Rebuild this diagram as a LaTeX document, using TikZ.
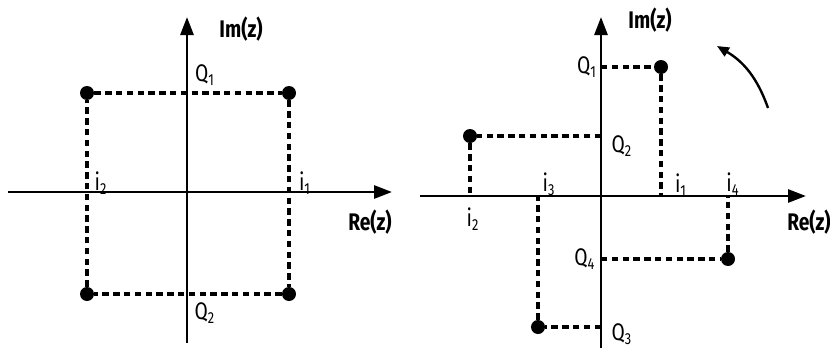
\documentclass[tikz,border=0pt]{standalone}
\usepackage{fontspec}
\setmainfont{Fira Sans}
\newfontfamily\axfont[FakeStretch=0.8]{Fira Sans}
\usepackage{tikz}
\usetikzlibrary{
    arrows.meta,
    positioning
}
\tikzstyle{axis} = [
    line width=1.4pt,
    -{Triangle[length=9pt, width=6.5pt]}
]
\tikzstyle{guide} = [
    line width=1.7pt,
    dash pattern=on 3.2pt off 2.2pt
]
\tikzstyle{dot} = [
    circle,
    fill=black,
    inner sep=0pt,
    minimum size=7pt
]
\tikzstyle{lbl} = [
    inner sep=1pt,
    font=\axfont\large
]
\tikzstyle{axlbl} = [
    inner sep=1pt,
    font=\axfont\large\bfseries
]
\tikzstyle{rotarrow} = [
    line width=1.2pt,
    -{Triangle[length=6pt, width=5pt]}
]

\begin{document}
\begin{tikzpicture}[x=0.5pt, y=-0.5pt]
        \useasboundingbox (0,0) rectangle (830,348);

        % Left plane: axes
        \coordinate (lxa) at (8,192);
        \coordinate (lxb) at (392,192);
        \coordinate (lya) at (187,343);
        \coordinate (lyb) at (187,17);
        \draw[axis] (lxa) -- (lxb);
        \draw[axis] (lya) -- (lyb);
        \node[axlbl] (lim) at (241,29) {Im(z)};
        \node[axlbl] (lre) at (370,222) {Re(z)};

        % Left plane: points
        \node[dot] (la) at (87,93) {};
        \node[dot] (lb) at (289,93) {};
        \node[dot] (lc) at (87,294) {};
        \node[dot] (ld) at (289,294) {};
        \draw[guide] (la) -- (lb) -- (ld) -- (lc) -- (la);

        % Left plane: labels
        \node[lbl] (lq1) at (205,75) {Q\textsubscript{1}};
        \node[lbl] (lq2) at (205,313) {Q\textsubscript{2}};
        \node[lbl] (li1) at (305,183) {i\textsubscript{1}};
        \node[lbl] (li2) at (101,183) {i\textsubscript{2}};

        % Right plane: axes
        \coordinate (rxa) at (420,196);
        \coordinate (rxb) at (806,196);
        \coordinate (rya) at (601,350);
        \coordinate (ryb) at (601,17);
        \draw[axis] (rxa) -- (rxb);
        \draw[axis] (rya) -- (ryb);
        \node[axlbl] (rim) at (650,20) {Im(z)};
        \node[axlbl] (rre) at (809,222) {Re(z)};

        % Right plane: points
        \node[dot] (ra) at (661,67) {};
        \node[dot] (rb) at (470,136) {};
        \node[dot] (rc) at (538,327) {};
        \node[dot] (rd) at (728,259) {};

        % Right plane: projections
        \coordinate (rax) at (661,196);
        \coordinate (ray) at (601,67);
        \coordinate (rbx) at (470,196);
        \coordinate (rby) at (601,136);
        \coordinate (rcx) at (538,196);
        \coordinate (rcy) at (601,327);
        \coordinate (rdx) at (728,196);
        \coordinate (rdy) at (601,259);
        \draw[guide] (ray) -- (ra) -- (rax);
        \draw[guide] (rby) -- (rb) -- (rbx);
        \draw[guide] (rcy) -- (rc) -- (rcx);
        \draw[guide] (rdy) -- (rd) -- (rdx);

        % Right plane: labels
        \node[lbl] (rq1) at (587,67) {Q\textsubscript{1}};
        \node[lbl] (rq2) at (622,146) {Q\textsubscript{2}};
        \node[lbl] (rq3) at (622,334) {Q\textsubscript{3}};
        \node[lbl] (rq4) at (585,259) {Q\textsubscript{4}};
        \node[lbl] (ri1) at (681,185) {i\textsubscript{1}};
        \node[lbl] (ri2) at (473,219) {i\textsubscript{2}};
        \node[lbl] (ri3) at (549,184) {i\textsubscript{3}};
        \node[lbl] (ri4) at (733,184) {i\textsubscript{4}};

        % Rotation
        \coordinate (rotfrom) at (768,108);
        \coordinate (rotto) at (717,46);
        \draw[rotarrow] (rotfrom) to[bend right=20] (rotto);
    \end{tikzpicture}
\end{document}
